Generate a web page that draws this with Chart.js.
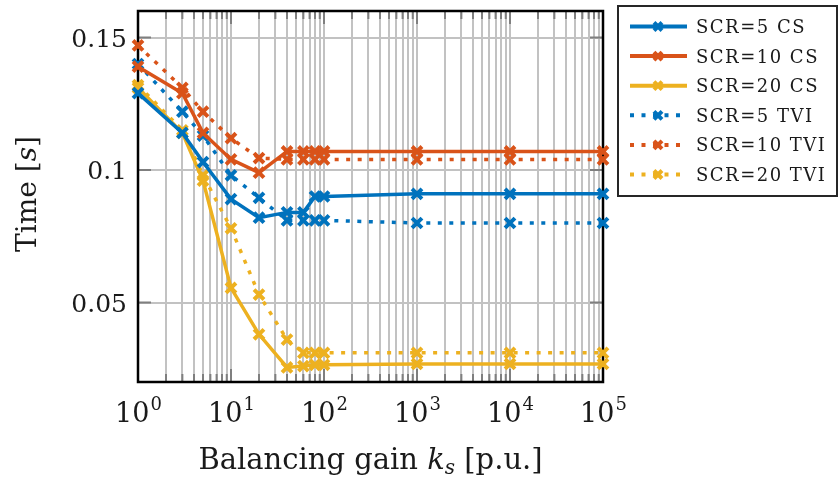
<!DOCTYPE html>
<html><head><meta charset="utf-8">
<script src="https://cdn.jsdelivr.net/npm/chart.js@4.4.1/dist/chart.umd.min.js"></script>
<style>html,body{margin:0;padding:0;background:#fff;}canvas{display:block;}</style>
</head><body>
<canvas id="c" width="840" height="479"></canvas>
<script>
// ---- data ----
const kValues = [1, 3, 5, 10, 20, 40, 60, 80, 100, 1000, 10000, 100000];
const scr5CS   = [0.129, 0.114, 0.103, 0.089, 0.082, 0.084, 0.084, 0.090, 0.090, 0.091, 0.091, 0.091];
const scr10CS  = [0.139, 0.129, 0.114, 0.104, 0.099, 0.107, 0.107, 0.107, 0.107, 0.107, 0.107, 0.107];
const scr20CS  = [0.131, 0.114, 0.096, 0.0555, 0.038, 0.0255, 0.026, 0.0265, 0.0265, 0.0268, 0.0268, 0.0268];
const scr5TVI  = [0.140, 0.122, 0.113, 0.098, 0.0895, 0.081, 0.081, 0.081, 0.081, 0.080, 0.080, 0.080];
const scr10TVI = [0.147, 0.131, 0.122, 0.112, 0.1045, 0.104, 0.104, 0.104, 0.104, 0.104, 0.104, 0.104];
const scr20TVI = [0.132, 0.115, 0.098, 0.078, 0.053, 0.036, 0.031, 0.031, 0.031, 0.031, 0.031, 0.031];
const seriesLabels = ['SCR=5 CS', 'SCR=10 CS', 'SCR=20 CS', 'SCR=5 TVI', 'SCR=10 TVI', 'SCR=20 TVI'];
const yTickValues = [0.05, 0.1, 0.15];
const yTickLabels = ['0.05', '0.1', '0.15'];
const xMajorTicks = [1, 10, 100, 1000, 10000, 100000];
const xTickExponents = ['0', '1', '2', '3', '4', '5'];
const yTitle = ['Time [', 's', ']'];
const xTitle = ['Balancing gain ', 'k', 's', ' [p.u.]'];

// ---- styles ----
const BLUE = '#0072BD', ORANGE = '#D95319', YELLOW = '#EDB120';
const FONT = '"DejaVu Serif", serif';
const xGridValues = [];
for (let e = 0; e < 5; e++) for (let m = 1; m <= 9; m++) xGridValues.push(m * Math.pow(10, e));
xGridValues.push(100000);

function makeSet(label, arr, color, dotted) {
  return {
    label,
    data: kValues.map((k, i) => ({ x: k, y: arr[i] })),
    borderColor: color,
    backgroundColor: color,
    borderWidth: 3.5,
    borderDash: dotted ? [4, 7.5] : [],
    borderCapStyle: 'butt',
    pointStyle: 'crossRot',
    pointRadius: 7,
    pointBorderWidth: 4,
    pointBorderColor: color,
    tension: 0,
    clip: false,
    fill: false
  };
}

const datasets = [
  makeSet(seriesLabels[0], scr5CS, BLUE, false),
  makeSet(seriesLabels[1], scr10CS, ORANGE, false),
  makeSet(seriesLabels[2], scr20CS, YELLOW, false),
  makeSet(seriesLabels[3], scr5TVI, BLUE, true),
  makeSet(seriesLabels[4], scr10TVI, ORANGE, true),
  makeSet(seriesLabels[5], scr20TVI, YELLOW, true)
];

function seg(ctx, x1, y1, x2, y2) { ctx.beginPath(); ctx.moveTo(x1, y1); ctx.lineTo(x2, y2); ctx.stroke(); }

const deco = {
  id: 'deco',
  beforeDatasetsDraw(chart) {
    const { ctx, chartArea: a, scales: { x, y } } = chart;
    ctx.save();
    ctx.strokeStyle = '#7f7f7f';
    ctx.lineWidth = 2;
    for (const v of xGridValues) {
      const px = x.getPixelForValue(v);
      const L = xMajorTicks.includes(v) ? 13 : 8;
      seg(ctx, px, a.top, px, a.top + L);
      seg(ctx, px, a.bottom, px, a.bottom - L);
    }
    for (const v of yTickValues) {
      const py = y.getPixelForValue(v);
      seg(ctx, a.left, py, a.left + 13, py);
      seg(ctx, a.right, py, a.right - 13, py);
    }
    ctx.strokeStyle = '#000';
    ctx.lineWidth = 2.5;
    ctx.strokeRect(a.left, a.top, a.right - a.left, a.bottom - a.top);
    ctx.restore();
  },
  afterDraw(chart) {
    const { ctx, chartArea: a, scales: { x, y } } = chart;
    ctx.save();
    ctx.fillStyle = '#1a1a1a';
    ctx.textBaseline = 'alphabetic';
    // y tick labels
    ctx.font = '25px ' + FONT;
    ctx.textAlign = 'right';
    yTickValues.forEach((v, i) => {
      ctx.fillText(yTickLabels[i], a.left - 11, y.getPixelForValue(v) + 9);
    });
    // x tick labels with superscripts
    ctx.textAlign = 'left';
    xMajorTicks.forEach((v, i) => {
      const px = x.getPixelForValue(v);
      ctx.font = '27px ' + FONT;
      const w1 = ctx.measureText('10').width;
      ctx.font = '18px ' + FONT;
      const w2 = ctx.measureText(xTickExponents[i]).width;
      const left = px - (w1 + w2) / 2;
      ctx.font = '27px ' + FONT;
      ctx.fillText('10', left, 422);
      ctx.font = '18px ' + FONT;
      ctx.fillText(xTickExponents[i], left + w1 + 1, 410);
    });
    // x title
    const fN = '29px ' + FONT, fI = 'italic 29px ' + FONT, fS = 'italic 20px ' + FONT;
    const parts = [[xTitle[0], fN, 0], [xTitle[1], fI, 0], [xTitle[2], fS, 5], [xTitle[3], fN, 0]];
    let tw = 0;
    for (const p of parts) { ctx.font = p[1]; p.push(ctx.measureText(p[0]).width); tw += p[3]; }
    let cx = (a.left + a.right) / 2 - tw / 2;
    for (const p of parts) { ctx.font = p[1]; ctx.fillText(p[0], cx, 469 + p[2]); cx += p[3]; }
    // y title (rotated)
    ctx.save();
    ctx.translate(36, 194);
    ctx.rotate(-Math.PI / 2);
    const yp = [[yTitle[0], '28px ' + FONT], [yTitle[1], 'italic 28px ' + FONT], [yTitle[2], '28px ' + FONT]];
    let yw = 0;
    for (const p of yp) { ctx.font = p[1]; p.push(ctx.measureText(p[0]).width); yw += p[2]; }
    let yx = -yw / 2;
    for (const p of yp) { ctx.font = p[1]; ctx.fillText(p[0], yx, 0); yx += p[2]; }
    ctx.restore();
    // legend
    const L = { x: 617, y: 5, w: 221, h: 192 };
    ctx.fillStyle = '#fff';
    ctx.fillRect(L.x, L.y, L.w, L.h);
    ctx.strokeStyle = '#262626';
    ctx.lineWidth = 2;
    ctx.strokeRect(L.x + 1, L.y + 1, L.w - 2, L.h - 2);
    chart.data.datasets.forEach((ds, i) => {
      const ry = 26.5 + i * 29.6;
      ctx.strokeStyle = ds.borderColor;
      ctx.lineWidth = 4;
      ctx.lineCap = 'butt';
      ctx.setLineDash(ds.borderDash);
      seg(ctx, 630, ry, 687, ry);
      ctx.setLineDash([]);
      ctx.lineWidth = 4;
      const r = 4;
      seg(ctx, 658 - r, ry - r, 658 + r, ry + r);
      seg(ctx, 658 - r, ry + r, 658 + r, ry - r);
      ctx.fillStyle = '#1a1a1a';
      ctx.font = '18px ' + FONT;
      ctx.letterSpacing = '1.5px';
      ctx.textAlign = 'left';
      ctx.fillText(ds.label, 696, ry + 6.5);
      ctx.letterSpacing = '0px';
    });
    ctx.restore();
  }
};

new Chart(document.getElementById('c'), {
  type: 'line',
  data: { datasets },
  options: {
    responsive: false,
    devicePixelRatio: 1,
    animation: false,
    layout: { padding: { top: 5, right: 237, left: 0, bottom: 0 } },
    plugins: { legend: { display: false }, tooltip: { enabled: false } },
    scales: {
      x: {
        type: 'logarithmic', min: 1, max: 100000,
        afterBuildTicks: s => { s.ticks = xGridValues.map(v => ({ value: v, major: xMajorTicks.includes(v) })); },
        afterFit: s => { s.height = 97; },
        ticks: { display: false },
        grid: { color: '#c2c2c2', lineWidth: 2, drawTicks: false },
        border: { display: false }
      },
      y: {
        type: 'linear', min: 0.02, max: 0.16,
        afterBuildTicks: s => { s.ticks = yTickValues.map(v => ({ value: v })); },
        afterFit: s => { s.width = 138; },
        ticks: { display: false },
        grid: { color: '#c2c2c2', lineWidth: 2, drawTicks: false },
        border: { display: false }
      }
    }
  },
  plugins: [deco]
});
</script>
</body></html>
